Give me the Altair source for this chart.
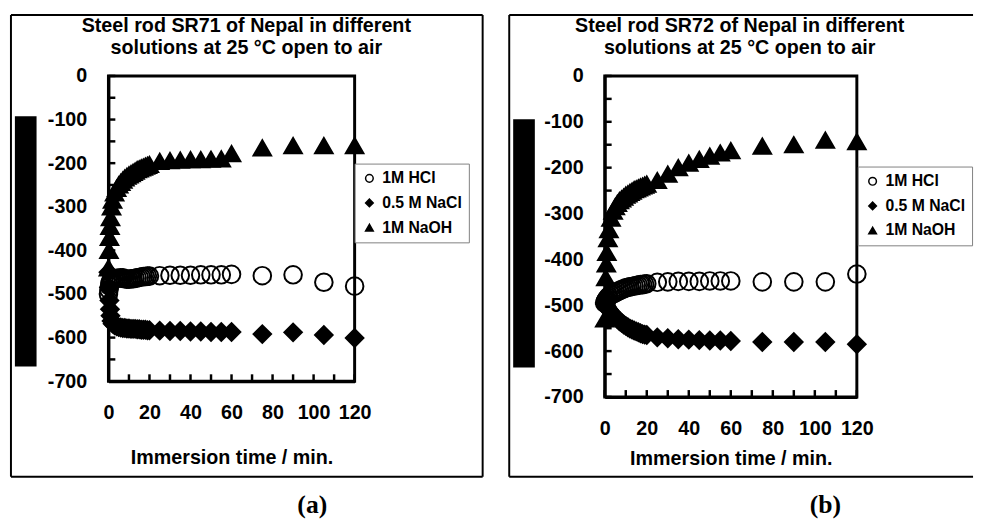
import altair as alt
import pandas as pd

# Immersion time (min)
T = [0, 0.25, 0.5, 0.75, 1, 1.5, 2, 3, 4, 5, 6, 7, 8, 9, 10, 11, 12, 13, 14, 15, 16, 17, 18, 19, 20,
     25, 30, 35, 40, 45, 50, 55, 60, 75, 90, 105, 120]

SOL = ["1M HCl", "0.5 M NaCl", "1M NaOH"]

# Panel (a) SR71 potentials (mV)
A_HCL = [-500, -490, -482, -476, -472, -468, -466, -465, -464, -464, -463, -463, -465, -466, -466, -465,
         -465, -464, -463, -462, -461, -460, -460, -459, -459,
         -458, -457, -457, -457, -456, -456, -456, -455, -458, -456, -473, -482]
A_NACL = [-450, -485, -515, -535, -550, -562, -568, -572, -574, -576, -577, -578, -578, -579, -579, -580,
          -580, -580, -581, -581, -582, -582, -582, -583, -583,
          -584, -585, -585, -586, -586, -587, -587, -587, -592, -588, -594, -601]
A_NAOH = [-440, -400, -370, -345, -325, -300, -285, -268, -258, -250, -244, -239, -234, -230, -227, -224,
          -221, -218, -215, -213, -211, -209, -207, -205, -203,
          -196, -194, -193, -192, -192, -191, -190, -178, -165, -160, -160, -160]

# Panel (b) SR72 potentials (mV)
B_HCL = [-495, -492, -490, -488, -486, -483, -480, -477, -475, -473, -470, -468, -466, -464, -462, -461,
         -460, -459, -458, -457, -456, -455, -455, -454, -453,
         -450, -449, -448, -448, -448, -447, -447, -447, -449, -449, -449, -432]
B_NACL = [-495, -498, -500, -502, -504, -507, -510, -515, -520, -525, -530, -535, -538, -542, -545, -548,
          -551, -553, -555, -557, -559, -561, -563, -564, -565,
          -570, -572, -574, -575, -576, -577, -577, -578, -580, -580, -580, -585]
B_NAOH = [-530, -480, -440, -410, -385, -355, -335, -310, -295, -285, -278, -272, -268, -264, -260, -257,
          -254, -251, -248, -246, -244, -242, -240, -238, -236,
          -228, -214, -200, -190, -182, -175, -168, -163, -153, -150, -140, -143]

X_TICKS = list(range(0, 121, 10))
Y_TICKS = list(range(-700, 1, 50))

TITLE_A = ["Steel rod SR71 of Nepal in different", "solutions at 25 °C open to air"]
TITLE_B = ["Steel rod SR72 of Nepal in different", "solutions at 25 °C open to air"]

FONT = "Liberation Sans"


def long_df(hcl, nacl, naoh):
    rows = []
    for name, vals in zip(SOL, [hcl, nacl, naoh]):
        for t, v in zip(T, vals):
            rows.append({"t": t, "E": v, "sol": name})
    return pd.DataFrame(rows)


one = pd.DataFrame({"k": [0]})


def hrule(x1, x2, y, sw=2):
    return alt.Chart(one).mark_rule(color="black", strokeWidth=sw).encode(
        x=alt.value(x1), x2=alt.value(x2), y=alt.value(y))


def vrule(x, y1, y2, sw=2):
    return alt.Chart(one).mark_rule(color="black", strokeWidth=sw).encode(
        x=alt.value(x), y=alt.value(y1), y2=alt.value(y2))


def text(s, x, y, size=20, font=FONT, baseline="top"):
    return alt.Chart(one).mark_text(text=s, font=font, fontWeight="bold", fontSize=size,
                                    align="center", baseline=baseline, color="black").encode(
        x=alt.value(x), y=alt.value(y))


def panel(df, w, h, title, title_x, tag, tag_x, border, bar, leg_x, leg_y, title_pad):
    xs = alt.Scale(domain=[0, 120], nice=False, zero=False)
    ys = alt.Scale(domain=[-700, 0], nice=False, zero=False)
    xa = alt.Axis(values=X_TICKS, labelExpr="datum.value % 20 == 0 ? datum.label : ''",
                  ticks=False, domain=True, domainColor="black", domainWidth=3, grid=False,
                  labelPadding=22, labelFontSize=20,
                  labelFont=FONT, labelFontWeight="bold", labelColor="black",
                  labelOverlap=False, labelFlush=False,
                  title="Immersion time / min.", titleFontSize=20, titleFont=FONT,
                  titleFontWeight="bold", titleColor="black", titlePadding=title_pad)
    ya = alt.Axis(values=Y_TICKS, labelExpr="datum.value % 100 == 0 ? toString(datum.value) : ''",
                  ticks=False, domain=True, domainColor="black", domainWidth=3, grid=False,
                  labelPadding=22, labelFontSize=20,
                  labelFont=FONT, labelFontWeight="bold", labelColor="black",
                  labelOverlap=False, title=None)
    X = alt.X("t:Q", scale=xs, axis=xa)
    Y = alt.Y("E:Q", scale=ys, axis=ya)

    legend = alt.Legend(title=None, orient="none", legendX=leg_x, legendY=leg_y,
                        fillColor="white", strokeColor="#808080", padding=7, rowPadding=9,
                        labelFontSize=16, labelFont=FONT, labelFontWeight="bold", labelColor="black",
                        symbolSize=60, symbolStrokeWidth=1.5, labelOffset=5, cornerRadius=0)
    pts = alt.Chart(df).mark_point(strokeWidth=2, size=320, opacity=1).encode(
        x=X, y=Y,
        shape=alt.Shape("sol:N", scale=alt.Scale(domain=SOL, range=["circle", "diamond", "triangle-up"]),
                        legend=legend),
        fill=alt.Fill("sol:N", scale=alt.Scale(domain=SOL, range=["transparent", "black", "black"]),
                      legend=legend),
        stroke=alt.Stroke("sol:N", scale=alt.Scale(domain=SOL, range=["black", "black", "black"]),
                          legend=legend),
    )
    # inward tick marks, placed through the scales
    xticks = alt.Chart(pd.DataFrame({"t": X_TICKS})).mark_rule(color="black", strokeWidth=2.5).encode(
        x=X, y=alt.value(h), y2=alt.value(h - 7))
    yticks = alt.Chart(pd.DataFrame({"E": Y_TICKS})).mark_rule(color="black", strokeWidth=2.5).encode(
        y=Y, x=alt.value(0), x2=alt.value(7))

    bx1, bx2, by1, by2, right = border
    layers = [xticks, yticks, hrule(bx1, bx2, by1), hrule(bx1, bx2, by2), vrule(bx1, by1, by2)]
    if right:
        layers.append(vrule(bx2, by1, by2))
    layers.append(alt.Chart(one).mark_rect(color="black").encode(
        x=alt.value(bar[0]), x2=alt.value(bar[1]), y=alt.value(bar[2]), y2=alt.value(bar[3])))
    layers.append(text(title[0], title_x, -61))
    layers.append(text(title[1], title_x, -38))
    layers.append(text(tag, tag_x, 444, size=26, font="Liberation Serif", baseline="alphabetic"))
    layers.append(pts)
    return alt.layer(*layers).properties(width=w, height=h)


pa = panel(long_df(A_HCL, A_NACL, A_NAOH), 250, 310, TITLE_A, 140, "(a)", 207,
           (-99, 380, -62, 407, True), (-95, -73, 41, 295), 250, 89, 26)
pb = panel(long_df(B_HCL, B_NACL, B_NAOH), 256, 326, TITLE_B, 137, "(b)", 224,
           (-97, 374, -62, 407, False), (-93, -71, 44, 296), 257, 92, 11)

chart = alt.hconcat(pa, pb, spacing=21).resolve_scale(
    shape="independent", fill="independent", stroke="independent").resolve_legend(
    shape="independent", fill="independent", stroke="independent").properties(padding=0).configure(
    font=FONT).configure_view(stroke="black", strokeWidth=3)

chart.save("out.html", embed_options={"renderer": "svg", "actions": False})
